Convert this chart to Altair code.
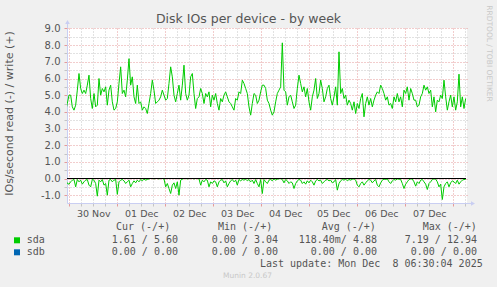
import json
import altair as alt
import pandas as pd

# ---------------- data ----------------
day_labels = ["30 Nov", "01 Dec", "02 Dec", "03 Dec", "04 Dec", "05 Dec", "06 Dec", "07 Dec"]

# samples every 50 minutes, hours relative to 30 Nov 00:00
start_hour = -1.82
step_hours = 50 / 60

sda_write = [
    4.06, 4.50, 5.00, 5.00, 4.30, 4.10, 4.40, 5.30, 6.30, 5.40,
    5.10, 5.30, 5.10, 5.60, 6.20, 4.80, 4.20, 5.10, 4.30, 4.40,
    6.00, 5.00, 5.40, 5.20, 5.50, 4.40, 5.30, 5.60, 4.60, 4.10,
    4.20, 4.60, 5.70, 6.70, 5.10, 5.30, 4.90, 5.90, 7.19, 5.60,
    6.10, 4.90, 4.50, 5.60, 4.50, 4.60, 4.10, 4.30, 4.20, 3.90,
    4.50, 5.10, 5.90, 5.30, 4.50, 4.60, 4.70, 4.90, 5.30, 5.00,
    4.70, 4.80, 5.70, 6.70, 6.10, 5.00, 4.60, 5.10, 5.60, 4.70,
    5.60, 6.80, 5.10, 4.70, 5.00, 6.10, 6.30, 5.10, 4.20, 4.80,
    4.90, 5.40, 5.10, 4.50, 5.10, 4.90, 5.20, 4.30, 5.00, 4.70,
    5.10, 4.50, 4.10, 4.80, 4.60, 5.00, 5.20, 4.90, 4.60, 4.50,
    4.30, 4.10, 4.80, 4.70, 5.20, 5.10, 5.90, 5.70, 5.40, 5.10,
    4.30, 3.80, 4.50, 5.10, 5.00, 4.50, 4.70, 5.20, 5.60,
    5.60, 5.40, 4.70, 4.50, 4.10, 3.80, 4.00, 4.60, 5.10, 5.30,
    5.50, 8.14, 5.30, 5.20, 4.40, 4.90, 5.00, 4.60, 4.20, 4.40,
    5.40, 6.20, 5.70, 5.20, 5.50, 4.90, 5.40, 4.60, 4.10, 4.90,
    5.30, 6.00, 4.80, 5.10, 5.90, 5.40, 4.60, 4.90, 5.40, 5.60,
    4.80, 4.40, 4.90, 5.50, 4.40, 7.60, 5.10, 5.40, 4.80, 5.00,
    4.40, 4.70, 4.50, 4.10, 4.60, 3.90, 4.50, 4.20, 4.80, 5.10,
    3.70, 4.50, 4.90, 4.40, 4.80, 4.30, 4.70, 5.00, 5.20, 5.10,
    5.60, 5.40, 5.10, 4.70, 4.90, 4.40, 4.50, 4.20, 4.90, 4.60,
    5.10, 4.60, 4.90, 4.30, 5.30, 5.10, 5.50, 4.70, 5.40, 5.10,
    4.70, 4.70, 4.30, 4.40, 4.90, 5.10, 5.60, 5.30, 5.50, 5.10,
    5.30, 4.30, 4.90, 4.00, 4.70, 4.60, 5.00, 4.80, 5.90, 4.90,
    4.10, 4.60, 5.00, 4.30, 4.90, 4.10, 4.60, 6.26, 4.30, 4.90,
    4.20, 4.80,
]

sda_read = [
    -0.05, -0.30, -0.34, -0.20, -0.10, -0.06, -0.50, -0.06, -0.20, -0.10,
    -0.34, -0.20, -0.10, -0.06, -0.40, -0.50, -0.06, -0.10, -0.30, -1.06,
    -0.10, -0.20, -0.06, -0.40, -0.30, -1.00, -0.10, -0.06, -0.20, -0.10,
    -0.06, -0.95, -0.20, -0.10, -0.06, -0.14, -0.30, -0.20, -0.10, -0.50,
    -0.30, -0.14, -0.26, -0.10, -0.20, -0.06, -0.14, -0.04, -0.10, -0.06,
    -0.02, 0.00, 0.00, -0.02, 0.00, 0.00, -0.02, 0.00, 0.00, -0.02,
    -0.50, -0.30, -0.60, -0.90, -0.40, -0.26, -0.60, -0.20, -1.00, -0.10,
    -0.04, 0.00, 0.00, -0.02, 0.00, 0.00, 0.00, -0.02, 0.00, 0.00,
    -0.02, -0.40, -0.10, -0.20, -0.06, -0.10, -0.50, -0.20, -0.30, -0.14,
    -0.20, -0.50, -0.20, -0.10, -0.06, -0.26, -0.14, -0.50, -0.30, -0.14,
    -0.06, -0.20, -0.10, -0.40, -0.06, -0.14, -0.06, -0.10, -0.04, -0.14,
    -0.06, -0.20, -0.10, -0.30, -0.06, -0.30, -0.50, -0.06, -0.90,
    -0.06, -0.20, -0.30, -0.10, -0.06, -0.14, -0.02, -0.10, -0.04, -0.02,
    0.00, -0.06, -0.26, -0.06, -0.14, -0.30, -0.20, -0.26, -0.60, -0.30,
    -0.14, -0.06, -0.10, -0.30, -0.20, -0.34, -0.14, -0.26, -0.10, -0.20,
    -0.40, -0.14, -0.06, -0.14, -0.10, -0.30, -0.20, -0.10, -0.06, -0.14,
    -0.10, -0.26, -0.20, -0.06, -0.70, -0.30, -0.14, -0.06, -0.10, -0.04,
    -0.14, -0.06, -0.10, -0.04, -0.02, -0.10, -0.40, -0.50, -0.30, -0.20,
    -0.40, -0.26, -0.14, -0.06, -0.10, -0.26, -0.14, -0.06, -0.40, -0.50,
    -0.26, -0.10, -0.04, -0.06, -0.02, -0.20, -0.30, -0.14, -0.06, -0.10,
    -0.02, -0.04, -0.06, -0.30, -0.60, -0.34, -0.20, -0.06, -0.02, -0.04,
    -0.20, -0.46, -0.20, -0.30, -0.10, -0.06, -0.20, -0.34, -0.66, -0.30,
    -0.20, -0.06, -0.02, -0.04, -0.20, -0.50, -0.34, -1.26, -0.50, -0.30,
    -0.20, -0.50, -0.26, -0.14, -0.20, -0.30, -0.10, -0.34, -0.20, -0.10,
    -0.06, -0.06,
]

sdb_write = [0.0] * len(sda_write)
sdb_read = [0.0] * len(sda_write)
zero_line = [0.0]

y_ticks = [-1.0, -0.5, 0.0, 0.5, 1.0, 1.5, 2.0, 2.5, 3.0, 3.5, 4.0, 4.5,
           5.0, 5.5, 6.0, 6.5, 7.0, 7.5, 8.0, 8.5, 9.0]
x_ticks = [0, 6, 12, 18, 24, 30, 36, 42, 48, 54, 60, 66, 72, 78, 84, 90, 96,
           102, 108, 114, 120, 126, 132, 138, 144, 150, 156, 162, 168, 174,
           180, 186, 192, 198]

legend_header = ["Cur (-/+)", "Min (-/+)", "Avg (-/+)", "Max (-/+)"]
sda_stats = ["1.61 / 5.60", "0.00 / 3.04", "118.40m/ 4.88", "7.19 / 12.94"]
sdb_stats = ["0.00 / 0.00", "0.00 / 0.00", "0.00 / 0.00", "0.00 / 0.00"]
last_update = "Last update: Mon Dec\u00a0 8 06:30:04 2025"

# ---------------- frames ----------------
hours = [start_hour + i * step_hours for i in range(len(sda_write))]


def frame(vals, part):
    return pd.DataFrame({"h": hours, "v": vals, "part": part})


sda_df = pd.concat([frame(sda_write, "write"), frame(sda_read, "read")], ignore_index=True)
sdb_df = pd.concat([frame(sdb_write, "write"), frame(sdb_read, "read")], ignore_index=True)
zero_df = pd.DataFrame({"v": zero_line})

# ---------------- style ----------------
OX, OY = 67, 28  # plot origin on the canvas
W, H = 400, 175
TXT = "#555555"
AXIS_C = "#C9CEF2"
GRID_MAJOR = "#E59A9A"
GRID_MINOR = "#C4C4C4"
SANS = "DejaVu Sans"
MONO = "DejaVu Sans Mono"

x_label_expr = f"datum.value % 24 == 12 ? {json.dumps(day_labels)}[floor(datum.value / 24)] : ''"
x_axis = alt.Axis(
    values=x_ticks, labelExpr=x_label_expr, title=None,
    grid=True,
    gridColor=alt.condition("datum.value % 24 == 0", alt.value(GRID_MAJOR), alt.value(GRID_MINOR)),
    gridDash=[1, 2], gridWidth=1,
    tickColor=alt.condition("datum.value % 24 == 0", alt.value(GRID_MAJOR), alt.value(GRID_MINOR)),
    tickSize=3, domainColor=AXIS_C,
    labelFont=SANS, labelFontSize=9.5, labelColor=TXT, labelPadding=2,
    labelOverlap=False, labelFlush=False,
)
y_label_expr = ("datum.value % 1 == 0 ? (datum.value < 0 ? '-' + format(-datum.value, '.1f') "
                ": format(datum.value, '.1f')) : ''")
y_axis = alt.Axis(
    values=y_ticks, labelExpr=y_label_expr, title=None,
    grid=True,
    gridColor=alt.condition("datum.value % 1 == 0", alt.value(GRID_MAJOR), alt.value(GRID_MINOR)),
    gridDash=[1, 2], gridWidth=1,
    tickColor=alt.condition("datum.value % 1 == 0", alt.value(GRID_MAJOR), alt.value(GRID_MINOR)),
    tickSize=3, domainColor=AXIS_C,
    labelFont=SANS, labelFontSize=10, labelColor=TXT, labelPadding=4,
    labelOverlap=False, labelFlush=False,
)
x_scale = alt.Scale(domain=[-1.15, 198.85], nice=False, zero=False)
y_scale = alt.Scale(domain=[-1.47, 9.03], nice=False, zero=False)

x_enc = alt.X("h:Q", scale=x_scale, axis=x_axis)
y_enc = alt.Y("v:Q", scale=y_scale, axis=y_axis)

sdb_layer = alt.Chart(sdb_df).mark_line(color="#0066B3", strokeWidth=1, clip=True).encode(
    x=x_enc, y=y_enc, detail="part:N")
sda_layer = alt.Chart(sda_df).mark_line(color="#00CC00", strokeWidth=1, clip=True).encode(
    x=x_enc, y=y_enc, detail="part:N")
zero_layer = alt.Chart(zero_df).mark_rule(color="#000000", strokeWidth=1).encode(
    y=y_enc, x=alt.value(0), x2=alt.value(W - 1))

# axis arrows
arrow_lines = [
    alt.Chart(alt.Data(values=[{}])).mark_rule(color=AXIS_C).encode(
        x=alt.value(0.5), y=alt.value(-5), y2=alt.value(0)),
    alt.Chart(alt.Data(values=[{}])).mark_rule(color=AXIS_C).encode(
        x=alt.value(W), x2=alt.value(W + 5), y=alt.value(H + 0.5)),
    alt.Chart(alt.Data(values=[{}])).mark_point(shape="triangle-up", filled=True, size=22,
                                                 color=AXIS_C, opacity=1).encode(
        x=alt.value(0.5), y=alt.value(-6)),
    alt.Chart(alt.Data(values=[{}])).mark_point(shape="triangle-right", filled=True, size=22,
                                                 color=AXIS_C, opacity=1).encode(
        x=alt.value(W + 6), y=alt.value(H + 0.5)),
]


def txt(s, x, y, size=10, font=MONO, color=TXT, align="left", angle=0):
    mk = dict(text=s, font=font, fontSize=size, color=color, align=align, baseline="middle")
    if angle:
        mk["angle"] = angle
    return alt.Chart(alt.Data(values=[{}])).mark_text(**mk).encode(
        x=alt.value(x - OX), y=alt.value(y - OY))


texts = [
    txt("Disk IOs per device - by week", 248.5, 19, size=12.5, font=SANS, color=TXT, align="center"),
    txt("IOs/second read (-) / write (+)", 10, 113.5, size=11, font=SANS, color=TXT,
        align="center", angle=270),
    txt("RRDTOOL / TOBI OETIKER", 489, 53.5, size=7.5, font=SANS, color="#C8C8C8",
        align="center", angle=90),
    txt("Munin 2.0.67", 247.5, 276, size=7.5, font=SANS, color="#C8C8C8", align="center"),
    txt("sda", 26.7, 240),
    txt("sdb", 26.7, 252),
    txt(last_update, 482.7, 263.5, align="right"),
]
header_x = [116, 218, 321.7, 422.7]
value_right = [178, 278, 377, 477]
for i in range(4):
    texts.append(txt(legend_header[i], header_x[i], 227.3))
    texts.append(txt(sda_stats[i], value_right[i], 240, align="right"))
    texts.append(txt(sdb_stats[i], value_right[i], 252, align="right"))

squares = [
    alt.Chart(alt.Data(values=[{}])).mark_square(color="#00CC00", size=36, opacity=1).encode(
        x=alt.value(17 - OX), y=alt.value(240.3 - OY)),
    alt.Chart(alt.Data(values=[{}])).mark_square(color="#0066B3", size=36, opacity=1).encode(
        x=alt.value(17 - OX), y=alt.value(252.3 - OY)),
]

chart = alt.layer(
    sdb_layer, sda_layer, zero_layer, *arrow_lines, *squares, *texts
).properties(
    width=W, height=H,
    background="#F0F0F0",
    padding={"left": OX, "top": OY, "right": 497 - OX - W, "bottom": 287 - OY - H},
    autosize=alt.AutoSizeParams(type="none"),
).configure_view(fill="#FFFFFF", strokeWidth=0)

chart.save("out.html", embed_options={"renderer": "svg", "actions": False})
